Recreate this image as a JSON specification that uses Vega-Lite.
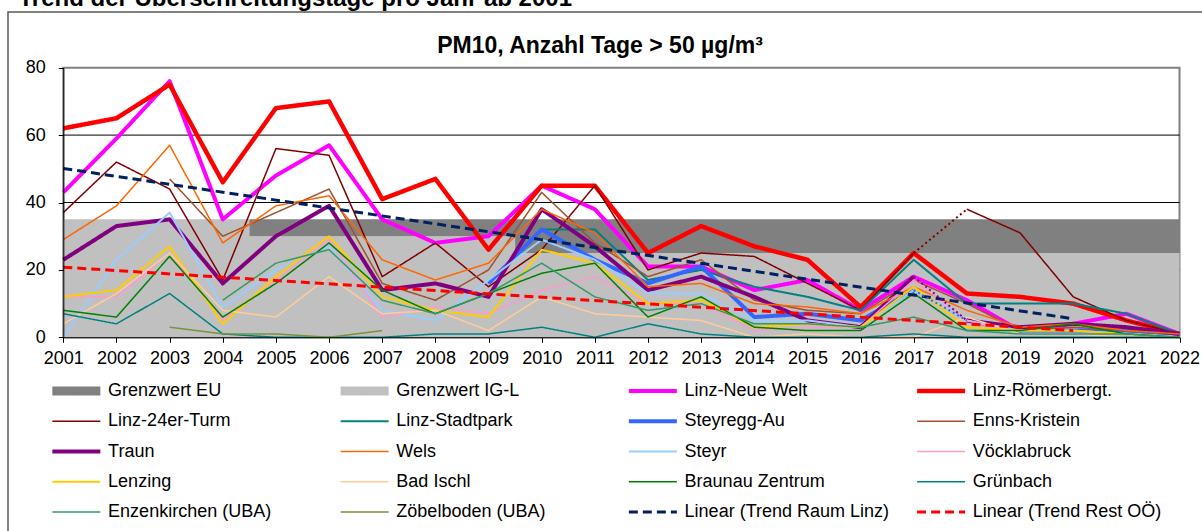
{
  "$schema": "https://vega.github.io/schema/vega-lite/v6.json",
  "width": 1199,
  "height": 524,
  "autosize": {"type": "none"},
  "padding": {"left": 8, "top": 12, "right": -5, "bottom": -5},
  "background": "white",
  "config": {
    "view": {"stroke": "#595959", "strokeWidth": 1.5},
    "font": "Liberation Sans"
  },
  "datasets": {
    "limits": [
      {"year": 2001, "igl": 35, "eu": 35}, {"year": 2002, "igl": 35, "eu": 35}, {"year": 2003, "igl": 35, "eu": 35}, {"year": 2004, "igl": 35, "eu": 35},
      {"year": 2005, "igl": 30, "eu": 35}, {"year": 2006, "igl": 30, "eu": 35}, {"year": 2007, "igl": 30, "eu": 35}, {"year": 2008, "igl": 30, "eu": 35}, {"year": 2009, "igl": 30, "eu": 35},
      {"year": 2010, "igl": 25, "eu": 35}, {"year": 2011, "igl": 25, "eu": 35}, {"year": 2012, "igl": 25, "eu": 35}, {"year": 2013, "igl": 25, "eu": 35}, {"year": 2014, "igl": 25, "eu": 35},
      {"year": 2015, "igl": 25, "eu": 35}, {"year": 2016, "igl": 25, "eu": 35}, {"year": 2017, "igl": 25, "eu": 35}, {"year": 2018, "igl": 25, "eu": 35}, {"year": 2019, "igl": 25, "eu": 35},
      {"year": 2020, "igl": 25, "eu": 35}, {"year": 2021, "igl": 25, "eu": 35}, {"year": 2022, "igl": 25, "eu": 35}
    ],
    "series": [
      {"s":"Linz-Neue Welt","year":2001,"v":43},{"s":"Linz-Neue Welt","year":2002,"v":59},{"s":"Linz-Neue Welt","year":2003,"v":76},{"s":"Linz-Neue Welt","year":2004,"v":35},{"s":"Linz-Neue Welt","year":2005,"v":48},{"s":"Linz-Neue Welt","year":2006,"v":57},{"s":"Linz-Neue Welt","year":2007,"v":35},{"s":"Linz-Neue Welt","year":2008,"v":28},{"s":"Linz-Neue Welt","year":2009,"v":30},{"s":"Linz-Neue Welt","year":2010,"v":45},{"s":"Linz-Neue Welt","year":2011,"v":38},{"s":"Linz-Neue Welt","year":2012,"v":21},{"s":"Linz-Neue Welt","year":2013,"v":21},{"s":"Linz-Neue Welt","year":2014,"v":14},{"s":"Linz-Neue Welt","year":2015,"v":17},{"s":"Linz-Neue Welt","year":2016,"v":8},{"s":"Linz-Neue Welt","year":2017,"v":18},{"s":"Linz-Neue Welt","year":2018,"v":11},{"s":"Linz-Neue Welt","year":2019,"v":2},{"s":"Linz-Neue Welt","year":2020,"v":4},{"s":"Linz-Neue Welt","year":2021,"v":7},{"s":"Linz-Neue Welt","year":2022,"v":1},
      {"s":"Linz-Römerbergt.","year":2001,"v":62},{"s":"Linz-Römerbergt.","year":2002,"v":65},{"s":"Linz-Römerbergt.","year":2003,"v":75},{"s":"Linz-Römerbergt.","year":2004,"v":46},{"s":"Linz-Römerbergt.","year":2005,"v":68},{"s":"Linz-Römerbergt.","year":2006,"v":70},{"s":"Linz-Römerbergt.","year":2007,"v":41},{"s":"Linz-Römerbergt.","year":2008,"v":47},{"s":"Linz-Römerbergt.","year":2009,"v":26},{"s":"Linz-Römerbergt.","year":2010,"v":45},{"s":"Linz-Römerbergt.","year":2011,"v":45},{"s":"Linz-Römerbergt.","year":2012,"v":25},{"s":"Linz-Römerbergt.","year":2013,"v":33},{"s":"Linz-Römerbergt.","year":2014,"v":27},{"s":"Linz-Römerbergt.","year":2015,"v":23},{"s":"Linz-Römerbergt.","year":2016,"v":9},{"s":"Linz-Römerbergt.","year":2017,"v":25},{"s":"Linz-Römerbergt.","year":2018,"v":13},{"s":"Linz-Römerbergt.","year":2019,"v":12},{"s":"Linz-Römerbergt.","year":2020,"v":10},{"s":"Linz-Römerbergt.","year":2021,"v":5},{"s":"Linz-Römerbergt.","year":2022,"v":1},
      {"s":"Linz-24er-Turm","year":2001,"v":37,"p":"a"},{"s":"Linz-24er-Turm","year":2002,"v":52,"p":"a"},{"s":"Linz-24er-Turm","year":2003,"v":44,"p":"a"},{"s":"Linz-24er-Turm","year":2004,"v":17,"p":"a"},{"s":"Linz-24er-Turm","year":2005,"v":56,"p":"a"},{"s":"Linz-24er-Turm","year":2006,"v":54,"p":"a"},{"s":"Linz-24er-Turm","year":2007,"v":18,"p":"a"},{"s":"Linz-24er-Turm","year":2008,"v":28,"p":"a"},{"s":"Linz-24er-Turm","year":2009,"v":15,"p":"a"},{"s":"Linz-24er-Turm","year":2010,"v":26,"p":"a"},{"s":"Linz-24er-Turm","year":2011,"v":45,"p":"a"},{"s":"Linz-24er-Turm","year":2012,"v":20,"p":"a"},{"s":"Linz-24er-Turm","year":2013,"v":25,"p":"a"},{"s":"Linz-24er-Turm","year":2014,"v":24,"p":"a"},{"s":"Linz-24er-Turm","year":2015,"v":16,"p":"a"},{"s":"Linz-24er-Turm","year":2016,"v":8,"p":"a"},{"s":"Linz-24er-Turm","year":2017,"v":25,"p":"a"},{"s":"Linz-24er-Turm","year":2018,"v":38,"p":"b"},{"s":"Linz-24er-Turm","year":2019,"v":31,"p":"b"},{"s":"Linz-24er-Turm","year":2020,"v":12,"p":"b"},{"s":"Linz-24er-Turm","year":2021,"v":5,"p":"b"},{"s":"Linz-24er-Turm","year":2022,"v":1,"p":"b"},
      {"s":"Linz-Stadtpark","year":2009,"v":16},{"s":"Linz-Stadtpark","year":2010,"v":32},{"s":"Linz-Stadtpark","year":2011,"v":32},{"s":"Linz-Stadtpark","year":2012,"v":17},{"s":"Linz-Stadtpark","year":2013,"v":20},{"s":"Linz-Stadtpark","year":2014,"v":15},{"s":"Linz-Stadtpark","year":2015,"v":12},{"s":"Linz-Stadtpark","year":2016,"v":8},{"s":"Linz-Stadtpark","year":2017,"v":23},{"s":"Linz-Stadtpark","year":2018,"v":10},{"s":"Linz-Stadtpark","year":2019,"v":10},{"s":"Linz-Stadtpark","year":2020,"v":10},{"s":"Linz-Stadtpark","year":2021,"v":7},{"s":"Linz-Stadtpark","year":2022,"v":1},
      {"s":"Steyregg-Au","year":2009,"v":16,"p":"a"},{"s":"Steyregg-Au","year":2010,"v":32,"p":"a"},{"s":"Steyregg-Au","year":2011,"v":23,"p":"a"},{"s":"Steyregg-Au","year":2012,"v":16,"p":"a"},{"s":"Steyregg-Au","year":2013,"v":21,"p":"a"},{"s":"Steyregg-Au","year":2014,"v":6,"p":"a"},{"s":"Steyregg-Au","year":2015,"v":7,"p":"a"},{"s":"Steyregg-Au","year":2016,"v":5,"p":"a"},{"s":"Steyregg-Au","year":2017,"v":14,"p":"a"},{"s":"Steyregg-Au","year":2018,"v":5,"p":"b"},{"s":"Steyregg-Au","year":2019,"v":2,"p":"b"},{"s":"Steyregg-Au","year":2020,"v":2,"p":"b"},{"s":"Steyregg-Au","year":2021,"v":2,"p":"b"},{"s":"Steyregg-Au","year":2022,"v":1,"p":"b"},
      {"s":"Enns-Kristein","year":2003,"v":47},{"s":"Enns-Kristein","year":2004,"v":30},{"s":"Enns-Kristein","year":2005,"v":37},{"s":"Enns-Kristein","year":2006,"v":44},{"s":"Enns-Kristein","year":2007,"v":16},{"s":"Enns-Kristein","year":2008,"v":11},{"s":"Enns-Kristein","year":2009,"v":20},{"s":"Enns-Kristein","year":2010,"v":43},{"s":"Enns-Kristein","year":2011,"v":28},{"s":"Enns-Kristein","year":2012,"v":18},{"s":"Enns-Kristein","year":2013,"v":23},{"s":"Enns-Kristein","year":2014,"v":11},{"s":"Enns-Kristein","year":2015,"v":8},{"s":"Enns-Kristein","year":2016,"v":7},{"s":"Enns-Kristein","year":2017,"v":17},{"s":"Enns-Kristein","year":2018,"v":10},{"s":"Enns-Kristein","year":2019,"v":2},{"s":"Enns-Kristein","year":2020,"v":3},{"s":"Enns-Kristein","year":2021,"v":2},{"s":"Enns-Kristein","year":2022,"v":1},
      {"s":"Traun","year":2001,"v":23,"p":"a"},{"s":"Traun","year":2002,"v":33,"p":"a"},{"s":"Traun","year":2003,"v":35,"p":"a"},{"s":"Traun","year":2004,"v":16,"p":"a"},{"s":"Traun","year":2005,"v":30,"p":"a"},{"s":"Traun","year":2006,"v":39,"p":"a"},{"s":"Traun","year":2007,"v":14,"p":"a"},{"s":"Traun","year":2008,"v":16,"p":"a"},{"s":"Traun","year":2009,"v":12,"p":"a"},{"s":"Traun","year":2010,"v":38,"p":"a"},{"s":"Traun","year":2011,"v":27,"p":"a"},{"s":"Traun","year":2012,"v":14,"p":"a"},{"s":"Traun","year":2013,"v":18,"p":"a"},{"s":"Traun","year":2014,"v":12,"p":"a"},{"s":"Traun","year":2015,"v":5,"p":"a"},{"s":"Traun","year":2016,"v":3,"p":"a"},{"s":"Traun","year":2017,"v":18,"p":"a"},{"s":"Traun","year":2018,"v":5,"p":"b"},{"s":"Traun","year":2019,"v":3,"p":"b"},{"s":"Traun","year":2020,"v":4,"p":"b"},{"s":"Traun","year":2021,"v":3,"p":"b"},{"s":"Traun","year":2022,"v":1,"p":"b"},
      {"s":"Wels","year":2001,"v":29},{"s":"Wels","year":2002,"v":39},{"s":"Wels","year":2003,"v":57},{"s":"Wels","year":2004,"v":28},{"s":"Wels","year":2005,"v":39},{"s":"Wels","year":2006,"v":42},{"s":"Wels","year":2007,"v":23},{"s":"Wels","year":2008,"v":17},{"s":"Wels","year":2009,"v":22},{"s":"Wels","year":2010,"v":38},{"s":"Wels","year":2011,"v":31},{"s":"Wels","year":2012,"v":15},{"s":"Wels","year":2013,"v":16},{"s":"Wels","year":2014,"v":10},{"s":"Wels","year":2015,"v":9},{"s":"Wels","year":2016,"v":7},{"s":"Wels","year":2017,"v":15},{"s":"Wels","year":2018,"v":8},{"s":"Wels","year":2019,"v":3},{"s":"Wels","year":2020,"v":4},{"s":"Wels","year":2021,"v":2},{"s":"Wels","year":2022,"v":1},
      {"s":"Steyr","year":2001,"v":0},{"s":"Steyr","year":2002,"v":23},{"s":"Steyr","year":2003,"v":37},{"s":"Steyr","year":2004,"v":9},{"s":"Steyr","year":2005,"v":20},{"s":"Steyr","year":2006,"v":27},{"s":"Steyr","year":2007,"v":8},{"s":"Steyr","year":2008,"v":5},{"s":"Steyr","year":2009,"v":17},{"s":"Steyr","year":2010,"v":29},{"s":"Steyr","year":2011,"v":23},{"s":"Steyr","year":2012,"v":13},{"s":"Steyr","year":2013,"v":13},{"s":"Steyr","year":2014,"v":5},{"s":"Steyr","year":2015,"v":5},{"s":"Steyr","year":2016,"v":3},{"s":"Steyr","year":2017,"v":14},{"s":"Steyr","year":2018,"v":5},{"s":"Steyr","year":2019,"v":2},{"s":"Steyr","year":2020,"v":2},{"s":"Steyr","year":2021,"v":1},{"s":"Steyr","year":2022,"v":0},
      {"s":"Vöcklabruck","year":2001,"v":12},{"s":"Vöcklabruck","year":2002,"v":12},{"s":"Vöcklabruck","year":2003,"v":25},{"s":"Vöcklabruck","year":2004,"v":5},{"s":"Vöcklabruck","year":2005,"v":17},{"s":"Vöcklabruck","year":2006,"v":29},{"s":"Vöcklabruck","year":2007,"v":6},{"s":"Vöcklabruck","year":2008,"v":9},{"s":"Vöcklabruck","year":2009,"v":7},{"s":"Vöcklabruck","year":2010,"v":14},{"s":"Vöcklabruck","year":2011,"v":18},{"s":"Vöcklabruck","year":2012,"v":10},{"s":"Vöcklabruck","year":2013,"v":10},{"s":"Vöcklabruck","year":2014,"v":2},{"s":"Vöcklabruck","year":2015,"v":3},{"s":"Vöcklabruck","year":2016,"v":3},{"s":"Vöcklabruck","year":2017,"v":17},{"s":"Vöcklabruck","year":2018,"v":5},{"s":"Vöcklabruck","year":2019,"v":1},{"s":"Vöcklabruck","year":2020,"v":1},{"s":"Vöcklabruck","year":2021,"v":1},{"s":"Vöcklabruck","year":2022,"v":0},
      {"s":"Lenzing","year":2001,"v":12},{"s":"Lenzing","year":2002,"v":14},{"s":"Lenzing","year":2003,"v":27},{"s":"Lenzing","year":2004,"v":4},{"s":"Lenzing","year":2005,"v":18},{"s":"Lenzing","year":2006,"v":30},{"s":"Lenzing","year":2007,"v":12},{"s":"Lenzing","year":2008,"v":8},{"s":"Lenzing","year":2009,"v":6},{"s":"Lenzing","year":2010,"v":26},{"s":"Lenzing","year":2011,"v":22},{"s":"Lenzing","year":2012,"v":10},{"s":"Lenzing","year":2013,"v":11},{"s":"Lenzing","year":2014,"v":3},{"s":"Lenzing","year":2015,"v":4},{"s":"Lenzing","year":2016,"v":3},{"s":"Lenzing","year":2017,"v":15},{"s":"Lenzing","year":2018,"v":3},{"s":"Lenzing","year":2019,"v":2},{"s":"Lenzing","year":2020,"v":2},{"s":"Lenzing","year":2021,"v":1},{"s":"Lenzing","year":2022,"v":0},
      {"s":"Bad Ischl","year":2001,"v":4},{"s":"Bad Ischl","year":2002,"v":13},{"s":"Bad Ischl","year":2003,"v":25},{"s":"Bad Ischl","year":2004,"v":8},{"s":"Bad Ischl","year":2005,"v":6},{"s":"Bad Ischl","year":2006,"v":18},{"s":"Bad Ischl","year":2007,"v":7},{"s":"Bad Ischl","year":2008,"v":8},{"s":"Bad Ischl","year":2009,"v":2},{"s":"Bad Ischl","year":2010,"v":12},{"s":"Bad Ischl","year":2011,"v":7},{"s":"Bad Ischl","year":2012,"v":6},{"s":"Bad Ischl","year":2013,"v":5},{"s":"Bad Ischl","year":2014,"v":0},{"s":"Bad Ischl","year":2015,"v":1},{"s":"Bad Ischl","year":2016,"v":0},{"s":"Bad Ischl","year":2017,"v":0},{"s":"Bad Ischl","year":2018,"v":6},{"s":"Bad Ischl","year":2019,"v":1},{"s":"Bad Ischl","year":2020,"v":1},{"s":"Bad Ischl","year":2021,"v":0},{"s":"Bad Ischl","year":2022,"v":0},
      {"s":"Braunau Zentrum","year":2001,"v":8},{"s":"Braunau Zentrum","year":2002,"v":6},{"s":"Braunau Zentrum","year":2003,"v":24},{"s":"Braunau Zentrum","year":2004,"v":6},{"s":"Braunau Zentrum","year":2005,"v":16},{"s":"Braunau Zentrum","year":2006,"v":28},{"s":"Braunau Zentrum","year":2007,"v":14},{"s":"Braunau Zentrum","year":2008,"v":7},{"s":"Braunau Zentrum","year":2009,"v":13},{"s":"Braunau Zentrum","year":2010,"v":19},{"s":"Braunau Zentrum","year":2011,"v":22},{"s":"Braunau Zentrum","year":2012,"v":6},{"s":"Braunau Zentrum","year":2013,"v":12},{"s":"Braunau Zentrum","year":2014,"v":3},{"s":"Braunau Zentrum","year":2015,"v":2},{"s":"Braunau Zentrum","year":2016,"v":2},{"s":"Braunau Zentrum","year":2017,"v":13},{"s":"Braunau Zentrum","year":2018,"v":2},{"s":"Braunau Zentrum","year":2019,"v":2},{"s":"Braunau Zentrum","year":2020,"v":4},{"s":"Braunau Zentrum","year":2021,"v":1},{"s":"Braunau Zentrum","year":2022,"v":0},
      {"s":"Grünbach","year":2001,"v":7},{"s":"Grünbach","year":2002,"v":4},{"s":"Grünbach","year":2003,"v":13},{"s":"Grünbach","year":2004,"v":1},{"s":"Grünbach","year":2005,"v":0},{"s":"Grünbach","year":2006,"v":0},{"s":"Grünbach","year":2007,"v":0},{"s":"Grünbach","year":2008,"v":1},{"s":"Grünbach","year":2009,"v":1},{"s":"Grünbach","year":2010,"v":3},{"s":"Grünbach","year":2011,"v":0},{"s":"Grünbach","year":2012,"v":4},{"s":"Grünbach","year":2013,"v":1},{"s":"Grünbach","year":2014,"v":0},{"s":"Grünbach","year":2015,"v":0},{"s":"Grünbach","year":2016,"v":0},{"s":"Grünbach","year":2017,"v":1},{"s":"Grünbach","year":2018,"v":0},{"s":"Grünbach","year":2019,"v":0},{"s":"Grünbach","year":2020,"v":0},{"s":"Grünbach","year":2021,"v":0},{"s":"Grünbach","year":2022,"v":0},
      {"s":"Enzenkirchen (UBA)","year":2004,"v":11},{"s":"Enzenkirchen (UBA)","year":2005,"v":22},{"s":"Enzenkirchen (UBA)","year":2006,"v":26},{"s":"Enzenkirchen (UBA)","year":2007,"v":11},{"s":"Enzenkirchen (UBA)","year":2008,"v":7},{"s":"Enzenkirchen (UBA)","year":2009,"v":13},{"s":"Enzenkirchen (UBA)","year":2010,"v":22},{"s":"Enzenkirchen (UBA)","year":2011,"v":12},{"s":"Enzenkirchen (UBA)","year":2012,"v":8},{"s":"Enzenkirchen (UBA)","year":2013,"v":10},{"s":"Enzenkirchen (UBA)","year":2014,"v":4},{"s":"Enzenkirchen (UBA)","year":2015,"v":4},{"s":"Enzenkirchen (UBA)","year":2016,"v":3},{"s":"Enzenkirchen (UBA)","year":2017,"v":6},{"s":"Enzenkirchen (UBA)","year":2018,"v":2},{"s":"Enzenkirchen (UBA)","year":2019,"v":1},{"s":"Enzenkirchen (UBA)","year":2020,"v":1},{"s":"Enzenkirchen (UBA)","year":2021,"v":1},{"s":"Enzenkirchen (UBA)","year":2022,"v":0},
      {"s":"Zöbelboden (UBA)","year":2003,"v":3},{"s":"Zöbelboden (UBA)","year":2004,"v":1},{"s":"Zöbelboden (UBA)","year":2005,"v":1},{"s":"Zöbelboden (UBA)","year":2006,"v":0},{"s":"Zöbelboden (UBA)","year":2007,"v":2},
      {"s":"Linear (Trend Raum Linz)","year":2001,"v":50.1},{"s":"Linear (Trend Raum Linz)","year":2020,"v":5.5},
      {"s":"Linear (Trend Rest OÖ)","year":2001,"v":20.8},{"s":"Linear (Trend Rest OÖ)","year":2020,"v":2.0}
    ],
    "dotted": [
      {"s":"Linz-24er-Turm","year":2017,"v":25},{"s":"Linz-24er-Turm","year":2018,"v":38},
      {"s":"Traun","year":2017,"v":18},{"s":"Traun","year":2018,"v":5},
      {"s":"Steyregg-Au","year":2017,"v":14},{"s":"Steyregg-Au","year":2018,"v":5}
    ]
  },
  "layer": [
    {
      "data": {"values": [{"box": 1}]},
      "mark": {"type": "rect", "fill": "transparent", "stroke": "#808080", "strokeWidth": 2},
      "encoding": {
        "x": {"datum": 2001, "type": "quantitative"},
        "x2": {"datum": 2022},
        "y": {"datum": 0, "type": "quantitative"},
        "y2": {"datum": 80}
      }
    },
    {
      "data": {"values": [{"g": 20}, {"g": 40}, {"g": 60}]},
      "mark": {"type": "rule", "color": "black", "strokeWidth": 1},
      "encoding": {
        "x": {"datum": 2001, "type": "quantitative"},
        "x2": {"datum": 2022},
        "y": {"field": "g", "type": "quantitative"}
      }
    },
    {
      "data": {"name": "limits"},
      "mark": {"type": "area", "interpolate": "step", "color": "#C0C0C0", "opacity": 1},
      "encoding": {
        "x": {"field": "year", "type": "quantitative"},
        "y": {"field": "igl", "type": "quantitative", "stack": null},
        "y2": {"datum": 0}
      }
    },
    {
      "data": {"name": "limits"},
      "mark": {"type": "area", "interpolate": "step", "color": "#808080", "opacity": 1},
      "encoding": {
        "x": {"field": "year", "type": "quantitative"},
        "y": {"field": "eu", "type": "quantitative", "stack": null},
        "y2": {"field": "igl"}
      }
    },
    {
      "data": {"name": "series"},
      "mark": {"type": "line", "strokeJoin": "round"},
      "encoding": {
        "x": {
          "field": "year", "type": "quantitative",
          "scale": {"domain": [2001, 2022], "range": [55.3, 1171.5], "nice": false, "zero": false},
          "axis": {
            "values": [2001,2002,2003,2004,2005,2006,2007,2008,2009,2010,2011,2012,2013,2014,2015,2016,2017,2018,2019,2020,2021,2022],
            "format": "d", "grid": false, "offset": -198.7, "zindex": 1,
            "domainColor": "black", "domainWidth": 1, "tickColor": "black", "tickSize": 5, "tickWidth": 1,
            "labelFontSize": 18, "labelColor": "black", "labelPadding": 7, "labelFlush": false, "labelOverlap": false,
            "title": "PM10, Anzahl Tage > 50 µg/m³", "titleX": 591.5, "titleY": -284.6, "titleAlign": "center", "titleBaseline": "alphabetic",
            "titleFontSize": 23, "titleFontWeight": "bold", "titleColor": "black"
          }
        },
        "y": {
          "field": "v", "type": "quantitative",
          "scale": {"domain": [0, 80], "range": [325.3, 55.7], "nice": false, "zero": true},
          "axis": {
            "values": [0, 20, 40, 60, 80], "grid": false, "offset": -55.3, "zindex": 1,
            "domainColor": "black", "domainWidth": 1, "tickColor": "black", "tickSize": 5, "tickWidth": 1,
            "labelFontSize": 18, "labelColor": "black", "labelPadding": 13,
            "title": "Trend der Überschreitungstage pro Jahr ab 2001", "titleX": -45.3, "titleY": -7, "titleAngle": 0, "titleAlign": "left", "titleBaseline": "alphabetic",
            "titleFontSize": 24, "titleFontWeight": "bold", "titleColor": "black"
          }
        },
        "stroke": {
          "field": "s", "type": "nominal",
          "scale": {
            "domain": ["Grenzwert EU","Linz-24er-Turm","Traun","Lenzing","Enzenkirchen (UBA)","Grenzwert IG-L","Linz-Stadtpark","Wels","Bad Ischl","Zöbelboden (UBA)","Linz-Neue Welt","Steyregg-Au","Steyr","Braunau Zentrum","Linear (Trend Raum Linz)","Linz-Römerbergt.","Enns-Kristein","Vöcklabruck","Grünbach","Linear (Trend Rest OÖ)"],
            "range": ["#808080","#800000","#800080","#FFCC00","#339966","#C0C0C0","#008080","#FF6600","#FFCC99","#77933C","#FF00FF","#3366FF","#99CCFF","#008000","#002060","#FF0000","#A0522D","#FF99CC","#008080","#FF0000"]
          },
          "legend": {
            "orient": "none", "legendX": 39.85, "legendY": 368, "columns": 4, "gridAlign": "all",
            "columnPadding": 23.25, "rowPadding": 8.25, "clipHeight": 22, "padding": 0, "title": null,
            "symbolType": "M-2,0L2,0", "symbolSize": 576, "symbolOffset": 12, "labelOffset": 15.25,
            "labelFontSize": 18, "labelColor": "black", "labelLimit": 400
          }
        },
        "strokeWidth": {
          "field": "s", "type": "nominal",
          "scale": {
            "type": "ordinal",
            "domain": ["Grenzwert EU","Linz-24er-Turm","Traun","Lenzing","Enzenkirchen (UBA)","Grenzwert IG-L","Linz-Stadtpark","Wels","Bad Ischl","Zöbelboden (UBA)","Linz-Neue Welt","Steyregg-Au","Steyr","Braunau Zentrum","Linear (Trend Raum Linz)","Linz-Römerbergt.","Enns-Kristein","Vöcklabruck","Grünbach","Linear (Trend Rest OÖ)"],
            "range": [9,1.5,4,2,1.5,9,2,1.5,1.5,1.5,4,4,2,1.5,3,4.5,1.5,1.5,1.5,3]
          },
          "legend": {
            "orient": "none", "legendX": 39.85, "legendY": 368, "columns": 4, "gridAlign": "all",
            "columnPadding": 23.25, "rowPadding": 8.25, "clipHeight": 22, "padding": 0, "title": null,
            "symbolType": "M-2,0L2,0", "symbolSize": 576, "symbolOffset": 12, "labelOffset": 15.25,
            "labelFontSize": 18, "labelColor": "black", "labelLimit": 400
          }
        },
        "strokeDash": {
          "field": "s", "type": "nominal",
          "scale": {
            "domain": ["Grenzwert EU","Linz-24er-Turm","Traun","Lenzing","Enzenkirchen (UBA)","Grenzwert IG-L","Linz-Stadtpark","Wels","Bad Ischl","Zöbelboden (UBA)","Linz-Neue Welt","Steyregg-Au","Steyr","Braunau Zentrum","Linear (Trend Raum Linz)","Linz-Römerbergt.","Enns-Kristein","Vöcklabruck","Grünbach","Linear (Trend Rest OÖ)"],
            "range": [[1,0],[1,0],[1,0],[1,0],[1,0],[1,0],[1,0],[1,0],[1,0],[1,0],[1,0],[1,0],[1,0],[1,0],[9,5],[1,0],[1,0],[1,0],[1,0],[9,5]]
          },
          "legend": {
            "orient": "none", "legendX": 39.85, "legendY": 368, "columns": 4, "gridAlign": "all",
            "columnPadding": 23.25, "rowPadding": 8.25, "clipHeight": 22, "padding": 0, "title": null,
            "symbolType": "M-2,0L2,0", "symbolSize": 576, "symbolOffset": 12, "labelOffset": 15.25,
            "labelFontSize": 18, "labelColor": "black", "labelLimit": 400
          }
        },
        "detail": {"field": "p"}
      }
    },
    {
      "data": {"name": "dotted"},
      "mark": {"type": "line", "strokeDash": [2, 3], "strokeWidth": 2},
      "encoding": {
        "x": {"field": "year", "type": "quantitative"},
        "y": {"field": "v", "type": "quantitative"},
        "stroke": {"field": "s", "type": "nominal", "legend": null}
      }
    }
  ]
}
